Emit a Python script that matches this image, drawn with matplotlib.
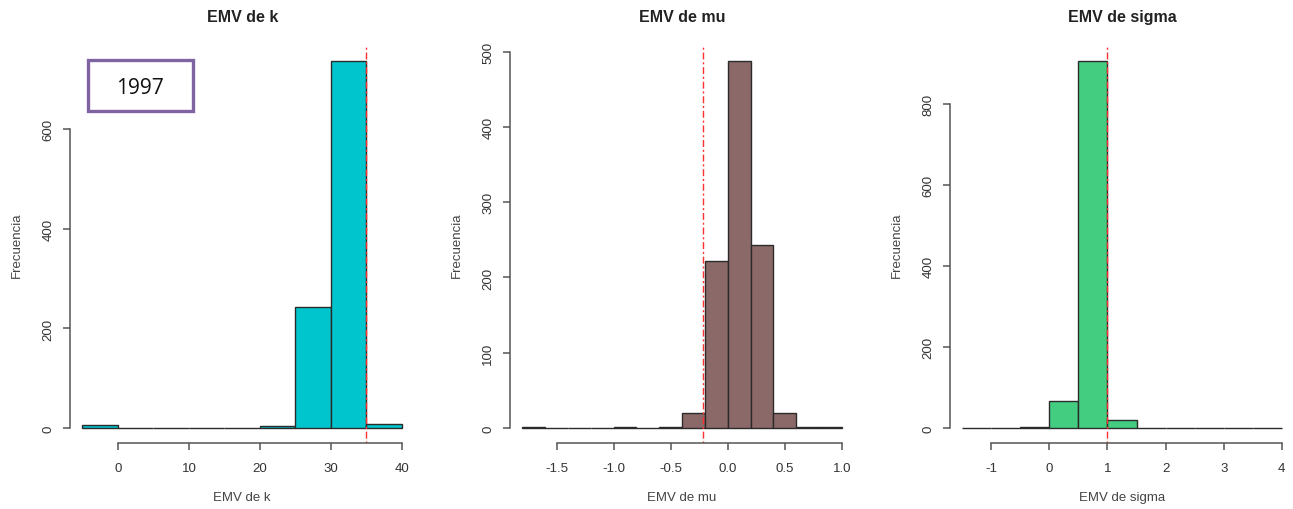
import matplotlib
matplotlib.use("Agg")
import matplotlib.pyplot as plt
from matplotlib.patches import Rectangle
import numpy as np

plt.rcParams['font.family'] = ['Liberation Sans', 'DejaVu Sans']

# histogram data (breaks and counts)
k_breaks = [-5, 0, 5, 10, 15, 20, 25, 30, 35, 40]
k_counts = [6, 0, 0, 0, 0, 4, 243, 738, 9]
k_true = 35

mu_breaks = [-1.8, -1.6, -1.4, -1.2, -1.0, -0.8, -0.6, -0.4, -0.2, 0.0, 0.2, 0.4, 0.6, 0.8, 1.0]
mu_counts = [2, 0, 0, 0, 1, 0, 1, 20, 222, 488, 243, 20, 2, 1]
mu_true = -0.22

sigma_breaks = [-1.5, -1.0, -0.5, 0.0, 0.5, 1.0, 1.5, 2.0, 2.5, 3.0, 3.5, 4.0]
sigma_counts = [1, 0, 2, 66, 908, 21, 0, 0, 0, 1, 1]
sigma_true = 1.0

k_xticks = [0, 10, 20, 30, 40]
k_yticks = [0, 200, 400, 600]
mu_xticks = [-1.5, -1.0, -0.5, 0.0, 0.5, 1.0]
mu_yticks = [0, 100, 200, 300, 400, 500]
sigma_xticks = [-1, 0, 1, 2, 3, 4]
sigma_yticks = [0, 200, 400, 600, 800]

panels = [
    ("EMV de k", "EMV de k", k_breaks, k_counts, k_true, "#00C5CD", k_xticks, k_yticks, ["0", "10", "20", "30", "40"]),
    ("EMV de mu", "EMV de mu", mu_breaks, mu_counts, mu_true, "#8B6969", mu_xticks, mu_yticks, ["-1.5", "-1.0", "-0.5", "0.0", "0.5", "1.0"]),
    ("EMV de sigma", "EMV de sigma", sigma_breaks, sigma_counts, sigma_true, "#43CD80", sigma_xticks, sigma_yticks, ["-1", "0", "1", "2", "3", "4"]),
]

W, H = 1293, 510
fig = plt.figure(figsize=(W / 100, H / 100), dpi=100)

lefts = [69.7, 509.6, 949.5]
axw, axh = 345.0, 396.7
bottom = 510 - 443.7

for (title, xlab, breaks, counts, true_val, col, xt, yt, xtl), left in zip(panels, lefts):
    ax = fig.add_axes([left / W, bottom / H, axw / W, axh / H])
    b = np.array(breaks)
    ax.bar(b[:-1], counts, width=np.diff(b), align='edge', color=col,
           edgecolor='#2b2b2b', linewidth=1.0)
    xr = b[-1] - b[0]
    ax.set_xlim(b[0] - 0.04 * xr, b[-1] + 0.04 * xr)
    ym = max(counts)
    ax.set_ylim(-0.04 * ym, 1.04 * ym)
    ax.axvline(true_val, color='#ff3030', linestyle=(0, (1.5, 2, 5, 2)), linewidth=1.0)

    for s in ['top', 'right']:
        ax.spines[s].set_visible(False)
    for s in ['left', 'bottom']:
        ax.spines[s].set_color('#555555')
        ax.spines[s].set_linewidth(1.1)
    ax.spines['bottom'].set_bounds(xt[0], xt[-1])
    ax.spines['left'].set_bounds(yt[0], yt[-1])

    ax.set_xticks(xt)
    ax.set_xticklabels(xtl)
    ax.set_yticks(yt)
    ax.tick_params(axis='both', length=5, width=1.1, color='#555555',
                   labelsize=9.5, labelcolor='#333333', pad=6)
    ax.tick_params(axis='x', pad=9)
    ax.tick_params(axis='y', labelrotation=90)
    for lab in ax.get_yticklabels():
        lab.set_va('center')

    ax.text(0.5, 1 + 29 / axh, title, transform=ax.transAxes, ha='center',
            va='center', fontsize=11.5, fontweight='bold', color='#222222')
    ax.set_xlabel(xlab, fontsize=9.5, color='#444444', va='center')
    ax.xaxis.set_label_coords(0.5, -54.3 / axh)
    ax.set_ylabel("Frecuencia", fontsize=9.5, color='#444444', va='center')
    ax.yaxis.set_label_coords(-53 / axw, 0.5)

# year box overlay
fig.patches.append(Rectangle((88 / W, 1 - 112 / H), 105 / W, 51 / H,
                             transform=fig.transFigure, fill=False,
                             edgecolor='#8064A2', linewidth=2.4))
fig.text(140 / W, 1 - 88 / H, "1997", ha='center', va='center',
         fontsize=15, color='#111111', family=['Open Sans', 'DejaVu Sans'])

fig.savefig("out.png", dpi=100)
